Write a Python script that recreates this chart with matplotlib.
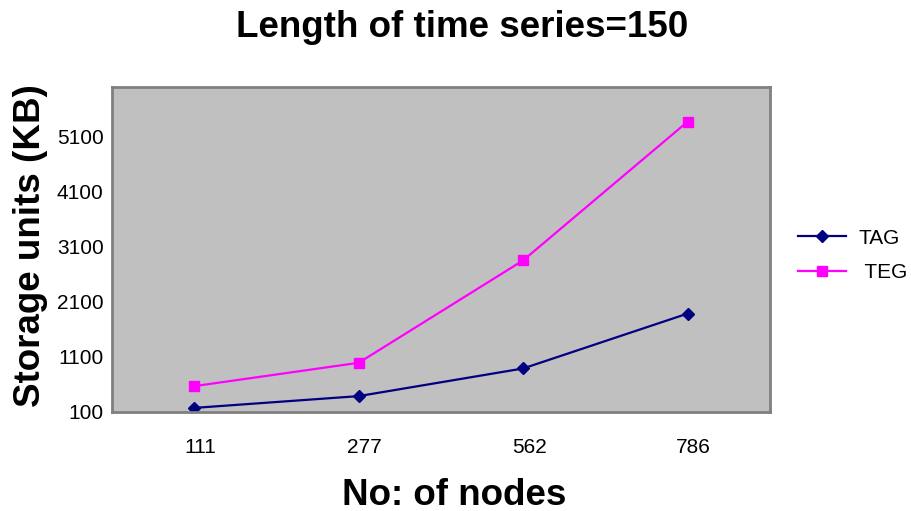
import numpy as np
import matplotlib.pyplot as plt
import matplotlib.transforms as mtransforms

plt.rcParams['font.family'] = ['Liberation Sans', 'DejaVu Sans']

# number of nodes (categories) and storage in KB
nodes = ['111', '277', '562', '786']
tag_kb = [172, 386, 888, 1884]
teg_kb = [567, 991, 2850, 5368]

x = np.arange(len(nodes))

fig = plt.figure(figsize=(9.11, 5.11), dpi=100)
ax = fig.add_axes([0.123, 0.194, 0.722, 0.636])
ax.set_facecolor('#C0C0C0')

ax.plot(x, tag_kb, color='#000080', lw=1.6, marker='D', ms=6.5, label='TAG')
ax.plot(x, teg_kb, color='#FF00FF', lw=1.6, marker='s', ms=7, label=' TEG')

ax.set_xlim(-0.5, len(nodes) - 0.5)
ax.set_ylim(100, 6000)
ax.set_yticks(np.arange(100, 5101, 1000))
ax.set_xticks(x)
ax.set_xticklabels(nodes)
ax.tick_params(length=0, labelsize=15)
ax.tick_params(axis='x', pad=19)
ax.tick_params(axis='y', pad=6)

# nudge the category labels a little to the right
offset = mtransforms.ScaledTranslation(6 / 100, 0, fig.dpi_scale_trans)
for lab in ax.get_xticklabels():
    lab.set_transform(lab.get_transform() + offset)

for s in ax.spines.values():
    s.set_color('#808080')
    s.set_linewidth(2)

fig.text(0.507, 0.946, 'Length of time series=150', ha='center', va='center',
         fontsize=26.5, fontweight='bold')
fig.text(0.499, 0.031, 'No: of nodes', ha='center', va='center',
         fontsize=26.5, fontweight='bold')
fig.text(0.034, 0.52, 'Storage units (KB)', ha='center', va='center',
         rotation=90, fontsize=26.5, fontweight='bold')

fig.legend(loc='center left', bbox_to_anchor=(0.865, 0.5), frameon=False,
           fontsize=15, handlelength=2.3, handletextpad=0.6,
           labelspacing=0.75, borderpad=0)

fig.savefig('out.png', dpi=100)
